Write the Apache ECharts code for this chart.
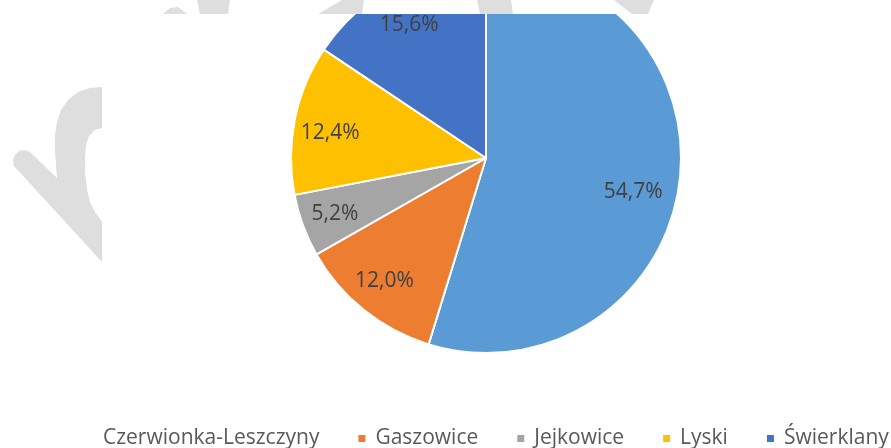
<!DOCTYPE html>
<html><head><meta charset="utf-8">
<script src="https://cdn.jsdelivr.net/npm/echarts@6/dist/echarts.min.js"></script>
<style>html,body{margin:0;padding:0;background:#fff}#c{width:891px;height:448px}</style>
</head><body><div id="c"></div>
<script>
const categories = ['Czerwionka-Leszczyny', 'Gaszowice', 'Jejkowice', 'Lyski', 'Świerklany'];
const values = [54.7, 12.0, 5.2, 12.4, 15.6];
const colors = ['#5B9BD5', '#ED7D31', '#A5A5A5', '#FFC000', '#4472C4'];
const labelShift = [[-10, 10], [-2, -1], [-2, 1], [0, 7], [-2, 7]];

const FONT = '"Open Sans", sans-serif';
const WM = '#DEDEDE';
const chart = echarts.init(document.getElementById('c'), null, {renderer: 'canvas'});
const data = categories.map((n, i) => ({name: n, value: values[i], itemStyle: {color: colors[i]}}));
const wmLeft = [[14,166],[102,262],[102,222],[95,212],[90,202],[87,190],[85,172],[85,158],[86,145],[89,136],[95,130],[102,128],
  [102,87],[90,88],[78,92],[68,100],[61,110],[57,122],[55,135],[55,150],[56,165],[57,178],
  [30,152],[25,150],[19,151],[15,155],[13,160]];
chart.setOption({
  animation: false,
  backgroundColor: '#fff',
  legend: {
    type: 'plain', orient: 'horizontal', width: 1400,
    data: categories.map((n, i) => i === 0 ? {name: n, itemStyle: {color: 'rgba(0,0,0,0)'}} : {name: n}),
    left: 79, top: 423,
    icon: 'rect', itemWidth: 9, itemHeight: 9, itemGap: 37,
    textStyle: {fontFamily: FONT, fontSize: 21, color: '#595959', padding: [0,0,0,4]},
    selectedMode: false
  },
  series: [{
    type: 'pie', center: [486, 158], radius: [0, 195], startAngle: 90, clockwise: true,
    data: data, label: {show: false}, labelLine: {show: false},
    itemStyle: {borderColor: '#fff', borderWidth: 2}, silent: true
  }, {
    type: 'pie', center: [486, 158], radius: [117, 195], startAngle: 90, clockwise: true,
    data: categories.map((n, i) => ({name: n, value: values[i], label: {offset: labelShift[i]}})),
    itemStyle: {color: 'rgba(0,0,0,0)'}, silent: true, legendHoverLink: false,
    label: {show: true, position: 'inside', fontFamily: FONT, fontSize: 21, color: '#404040',
      formatter: p => p.value.toFixed(1).replace('.', ',') + '%'},
    labelLine: {show: false}
  }],
  graphic: [
    {type: 'rect', shape: {x: 0, y: 0, width: 891, height: 14}, style: {fill: '#fff'}, z: 100},
    {type: 'polygon', z: 101, shape: {points: wmLeft}, style: {fill: WM}},
    {type: 'polygon', z: 101, shape: {points: [[163,14],[170,8],[178,7],[187,14]]}, style: {fill: WM}},
    {type: 'polygon', z: 101, shape: {points: [[197,0],[230,0],[228,14],[200,14]]}, style: {fill: WM}},
    {type: 'polygon', z: 101, shape: {points: [[318,14],[342,0],[364,0],[362,14]]}, style: {fill: WM}},
    {type: 'polygon', z: 101, shape: {points: [[477,0],[511,0],[513,14],[480,14]]}, style: {fill: WM}},
    {type: 'polygon', z: 101, shape: {points: [[614,0],[654,0],[648,14],[632,14]]}, style: {fill: WM}}
  ]
});
</script></body></html>
